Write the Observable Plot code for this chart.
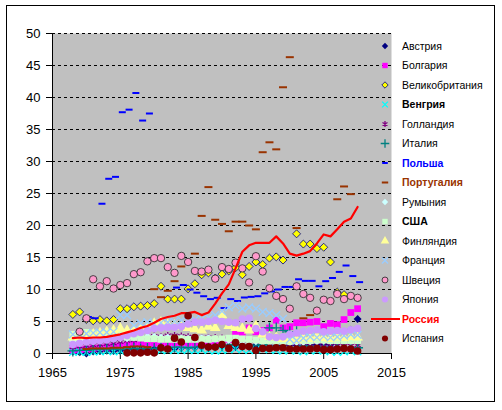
<!DOCTYPE html>
<html><head><meta charset="utf-8">
<script src="https://cdn.jsdelivr.net/npm/d3@7"></script>
<script src="https://cdn.jsdelivr.net/npm/@observablehq/plot@0.6"></script>
<style>
body{margin:0;background:#fff;}
#wrap{position:relative;width:502px;height:410px;overflow:hidden;font-family:"Liberation Sans",Arial,sans-serif;}
#border{position:absolute;left:6px;top:5px;width:489px;height:397px;border:1px solid #000;box-sizing:border-box;pointer-events:none;}
#chart{position:absolute;left:0;top:0;}
#legend{position:absolute;left:0;top:0;}
</style></head><body>
<div id="wrap"><div id="chart"></div><svg id="legend" width="502" height="410"></svg><div id="border"></div></div>
<script>
const years = [1968,1969,1970,1971,1972,1973,1974,1975,1976,1977,1978,1979,1980,1981,1982,1983,1984,1985,1986,1987,1988,1989,1990,1991,1992,1993,1994,1995,1996,1997,1998,1999,2000,2001,2002,2003,2004,2005,2006,2007,2008,2009,2010];
const xTicks = [1965,1975,1985,1995,2005,2015];
const yTicks = [0,5,10,15,20,25,30,35,40,45,50];
const gridVals = [5,10,15,20,25,30,35,40,45,50];

const austria = [0.3,0.2,0.0,0.3,0.4,0.5,0.4,0.5,0.6,0.7,0.6,0.8,0.7,0.8,0.9,0.8,0.9,1.0,0.9,1.0,1.1,1.0,1.2,1.1,1.0,1.2,1.1,1.3,1.2,1.1,1.3,1.2,1.4,1.3,1.2,1.4,1.3,1.5,1.4,1.6,2.0,3.7,5.4];
const bulgaria = [0.5,0.6,0.7,0.8,0.9,1.0,1.1,1.2,1.3,1.6,1.6,1.5,1.6,1.5,1.4,1.4,1.3,1.4,1.5,1.6,1.8,2.0,1.9,2.2,3.3,2.9,4.0,3.4,3.6,4.0,5.2,4.0,4.2,4.8,4.8,4.9,5.0,4.2,4.7,4.5,5.3,6.4,7.0];
const uk = [6.1,6.5,5.3,5.1,5.3,5.1,5.3,7.0,7.0,7.3,7.4,7.5,7.8,10.5,8.5,8.5,8.5,10.1,10.9,12.3,12.6,11.8,12.4,12.9,13.4,12.3,13.6,14.3,13.9,14.9,15.1,14.6,null,18.7,17.1,17.1,16.4,16.6,14.3,9.6,9.2,null,null];
const hungary = [0.2,0.3,0.2,0.3,0.3,0.4,0.3,0.4,0.4,0.5,0.4,0.5,0.4,0.5,0.5,0.6,0.5,0.6,0.5,0.6,0.5,0.4,0.5,0.6,0.7,0.6,0.5,0.6,0.7,0.6,0.5,0.4,0.5,0.4,0.3,0.4,0.5,0.4,0.3,0.2,0.3,0.4,0.3];
const netherlands = [1.0,1.1,1.2,1.3,1.4,1.5,1.6,1.8,2.0,2.1,2.3,2.5,2.7,2.6,2.8,2.8,2.7,2.6,2.5,2.4,2.5,2.5,2.4,2.3,2.2,2.1,2.0,1.9,1.9,1.8,1.8,1.7,1.6,1.6,1.5,1.5,1.4,1.4,1.3,1.3,1.2,1.2,1.3];
const italy = [0.4,0.5,0.5,0.6,0.6,0.7,0.7,0.6,0.7,0.8,0.7,0.8,0.8,0.9,0.9,1.0,1.0,0.9,1.0,1.1,1.1,1.2,1.2,1.3,1.4,1.3,1.2,1.3,1.4,4.0,4.0,3.6,3.4,3.4,1.2,1.1,1.0,1.0,0.9,0.8,0.9,0.8,0.9];
const poland = [null,null,5.7,5.5,23.4,27.3,27.6,37.7,38.1,40.7,36.4,37.5,null,null,null,10.3,10.7,10.0,9.5,8.95,8.5,8.7,7.1,8.5,8.2,8.75,8.85,8.95,9.4,9.7,10.0,10.4,10.4,11.6,11.35,11.35,10.5,11.3,11.8,12.75,13.75,12.1,11.15];
const portugal = [null,null,0.7,0.8,0.8,0.8,0.9,0.9,1.0,1.1,1.1,1.0,10.05,8.8,9.8,11.3,13.6,null,15.6,21.5,26.0,20.9,20.25,19.1,20.6,20.6,20.0,19.4,31.45,33.0,31.9,41.6,46.3,19.6,5.5,6.0,null,null,null,24.1,26.1,24.9,null];
const romania = [2.0,2.1,2.1,2.2,2.2,2.3,2.3,2.4,2.4,2.5,2.5,2.6,2.6,2.5,2.5,2.4,2.4,2.3,2.3,2.4,2.4,2.3,2.2,2.1,2.0,2.0,1.9,1.9,1.8,1.8,1.8,1.7,1.7,1.8,1.8,1.9,1.9,2.0,2.0,2.1,2.1,2.0,2.1];
const usa = [3.0,3.2,3.3,3.2,3.1,3.2,3.2,3.0,2.6,2.5,2.4,2.3,2.3,2.2,2.2,2.2,2.3,2.2,2.2,2.2,2.2,2.3,2.3,2.4,2.4,2.3,2.2,2.1,2.0,2.0,1.9,1.9,1.9,2.0,2.0,2.0,2.1,2.1,2.0,2.0,2.0,2.0,2.0];
const finland = [2.5,2.6,2.8,3.0,3.2,3.4,3.6,3.9,3.6,3.7,3.9,4.2,4.7,4.9,4.5,4.4,4.2,4.0,3.8,3.6,4.2,4.0,6.0,4.3,4.0,3.9,3.6,4.3,3.0,2.6,2.5,2.3,2.2,2.1,2.4,2.3,2.6,2.4,2.3,2.5,2.4,2.6,2.5];
const france = [3.0,3.0,3.1,3.2,3.3,3.3,3.4,6.0,6.0,4.4,4.7,4.9,4.6,4.8,4.9,5.0,5.2,5.0,5.3,5.4,5.6,6.0,6.6,7.2,7.5,7.0,7.2,7.0,6.5,6.3,6.0,5.4,2.2,2.0,2.4,2.6,2.5,2.7,2.5,2.6,2.8,3.0,2.9];
const sweden = [null,3.4,5.5,11.6,10.5,11.3,10.15,10.7,11.0,12.4,12.7,14.4,14.9,14.9,13.5,12.6,15.25,14.3,12.9,12.8,13.1,11.7,13.5,13.2,14.2,13.3,11.1,15.2,12.8,10.2,9.0,8.5,7.0,10.5,9.3,8.7,6.7,8.4,8.2,9.3,8.5,9.0,8.7];
const japan = [1.4,1.6,1.8,1.9,2.0,2.1,2.3,2.5,2.8,3.1,3.3,3.6,3.9,4.0,4.1,4.1,4.2,4.6,4.9,4.9,5.0,5.2,5.0,4.9,4.8,5.4,5.5,3.9,3.4,2.6,2.5,2.6,3.0,3.2,3.5,3.6,3.7,3.4,3.5,3.6,3.5,3.7,3.9];
const russia = [2.4,2.5,2.4,2.5,2.5,2.6,2.8,3.0,3.3,3.6,4.0,4.3,4.8,5.4,5.7,5.9,6.3,6.3,6.5,6.0,6.4,7.8,9.4,10.8,13.3,15.9,16.9,17.3,17.3,17.3,18.3,17.2,15.6,15.3,15.6,16.0,17.2,18.6,18.3,19.4,20.6,21.1,22.9];
const spain = [null,null,null,null,null,null,null,null,0.1,0.1,0.1,0.2,0.1,0.9,0.7,2.4,1.8,5.9,2.5,1.3,1.0,1.0,1.4,0.8,1.7,1.1,1.1,0.5,0.8,0.8,0.9,0.9,0.7,0.7,0.7,0.7,0.8,0.6,0.6,0.7,0.8,0.7,0.4];

const dash = {draw(ctx, size){ const r = Math.sqrt(size/Math.PI); ctx.moveTo(-r,0); ctx.lineTo(r,0); }};

const series = [
  {name:"Австрия", data:austria, sym:d3.symbolDiamond2, fill:"#000080", stroke:"none", r:3.6},
  {name:"Болгария", data:bulgaria, sym:d3.symbolSquare, fill:"#FF00FF", stroke:"none", r:3.8},
  {name:"Великобритания", data:uk, sym:d3.symbolDiamond2, fill:"#FFFF00", stroke:"#000080", r:3.6, sw:0.8},
  {name:"Венгрия", data:hungary, sym:d3.symbolTimes, fill:"none", stroke:"#00FFFF", r:3.4, bold:true},
  {name:"Голландия", data:netherlands, sym:d3.symbolAsterisk, fill:"none", stroke:"#800080", r:3.4},
  {name:"Италия", data:italy, sym:d3.symbolPlus, fill:"none", stroke:"#008080", r:3.6},
  {name:"Польша", data:poland, sym:dash, fill:"none", stroke:"#0000FF", r:3.5, sw:2, bold:true, color:"#0000FF", dx:2},
  {name:"Португалия", data:portugal, sym:dash, fill:"none", stroke:"#993300", r:4, sw:2, bold:true, color:"#993300"},
  {name:"Румыния", data:romania, sym:d3.symbolDiamond2, fill:"#CCFFFF", stroke:"none", r:3.6},
  {name:"США", data:usa, sym:d3.symbolSquare, fill:"#CCFFCC", stroke:"none", r:3.8, bold:true},
  {name:"Финляндия", data:finland, sym:d3.symbolTriangle, fill:"#FFFF99", stroke:"none", r:4},
  {name:"Франция", data:france, sym:d3.symbolTimes, fill:"none", stroke:"#99CCFF", r:3.6},
  {name:"Швеция", data:sweden, sym:d3.symbolCircle, fill:"#FF99CC", stroke:"#333333", r:3.7, sw:0.9},
  {name:"Япония", data:japan, sym:d3.symbolCircle, fill:"#CC99FF", stroke:"none", r:3.8},
  {name:"Россия", data:russia, line:true, stroke:"#FF0000", bold:true, color:"#FF0000"},
  {name:"Испания", data:spain, sym:d3.symbolCircle, fill:"#800000", stroke:"none", r:3.8}
];

function rows(vals){ return years.map((y,i)=>({year:y, value:vals[i]})).filter(d=>d.value!=null); }

const marks = [
  Plot.frame({fill:"#C0C0C0", stroke:null}),
  Plot.ruleY(gridVals, {stroke:"black", strokeWidth:1, strokeDasharray:"3,3"}),
  Plot.ruleY([0], {stroke:"black"}),
  Plot.ruleX([1965], {stroke:"black"}),
  Plot.axisY({ticks:yTicks, tickSize:6, tickPadding:6, tickFormat:d=>String(d), label:null, fontSize:13}),
  Plot.axisX({ticks:xTicks, tickSize:6, tickPadding:8, tickFormat:d=>String(d), label:null, fontSize:13})
];
for (const s of series) {
  if (s.line) {
    marks.push(Plot.line(rows(s.data), {x:"year", y:"value", stroke:s.stroke, strokeWidth:2.2}));
  } else {
    marks.push(Plot.dot(rows(s.data), {x:"year", y:"value", symbol:s.sym, r:s.r, fill:s.fill, stroke:s.stroke, strokeWidth:s.sw || 1.3, dx:s.dx || 0}));
  }
}

const chart = Plot.plot({
  width:502, height:410,
  marginLeft:52, marginRight:111, marginTop:33, marginBottom:57,
  x:{domain:[1965,2015]},
  y:{domain:[0,50]},
  style:{fontFamily:"'Liberation Sans', Arial, sans-serif", fontSize:"13px", color:"black", background:"transparent", overflow:"visible"},
  marks
});
document.getElementById("chart").appendChild(chart);

const lg = d3.select("#legend");
series.forEach((s,i)=>{
  const cy = 46 + i*19.5;
  if (s.line) {
    lg.append("line").attr("x1",371).attr("x2",400).attr("y1",cy).attr("y2",cy).attr("stroke",s.stroke).attr("stroke-width",2);
  } else {
    const rr = s.r*0.8;
    lg.append("path").attr("transform",`translate(385,${cy})`)
      .attr("d", d3.symbol(s.sym, rr*rr*Math.PI)())
      .attr("fill", s.fill).attr("stroke", s.stroke).attr("stroke-width", s.sw || 1.3);
  }
  lg.append("text").attr("x",402).attr("y",cy).attr("dy","0.35em")
    .attr("font-family","'Liberation Sans', Arial, sans-serif").attr("font-size","10.5px")
    .attr("font-weight", s.bold ? "bold" : "normal").attr("fill", s.color || "black")
    .text(s.name);
});
</script>
</body></html>
